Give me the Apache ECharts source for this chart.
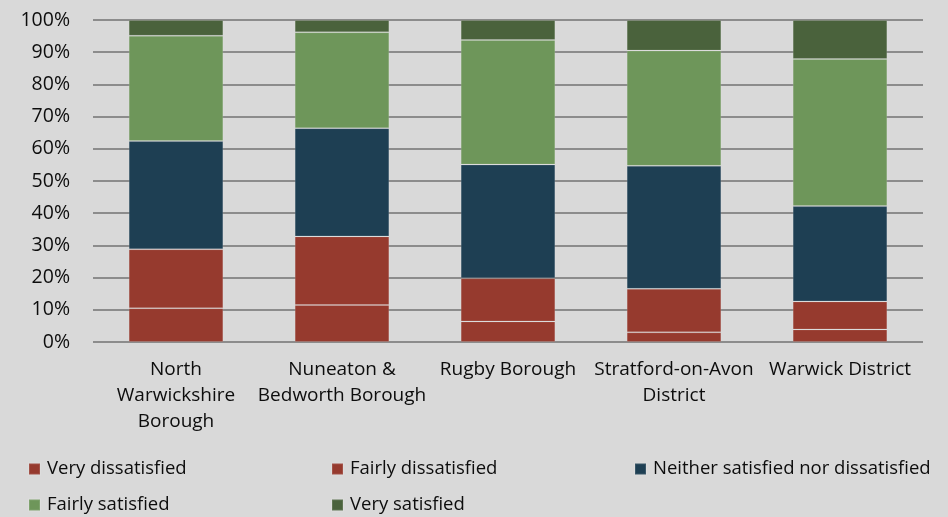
<!DOCTYPE html>
<html>
<head>
<meta charset="utf-8">
<script src="https://cdn.jsdelivr.net/npm/echarts@6/dist/echarts.min.js"></script>
<style>
html,body{margin:0;padding:0;background:#d9d9d9;}
#c{width:948px;height:517px;}
</style>
</head>
<body>
<div id="c"></div>
<script>
var categories = ['North Warwickshire Borough', 'Nuneaton & Bedworth Borough', 'Rugby Borough', 'Stratford-on-Avon District', 'Warwick District'];
var categoryLabels = ['North\nWarwickshire\nBorough', 'Nuneaton &\nBedworth Borough', 'Rugby Borough', 'Stratford-on-Avon\nDistrict', 'Warwick District'];
var seriesNames = ['Very dissatisfied', 'Fairly dissatisfied', 'Neither satisfied nor dissatisfied', 'Fairly satisfied', 'Very satisfied'];
var veryDissatisfied = [10.5, 11.5, 6.4, 3.0, 3.9];
var fairlyDissatisfied = [18.3, 21.3, 13.4, 13.5, 8.7];
var neither = [33.6, 33.6, 35.3, 38.2, 29.6];
var fairlySatisfied = [32.7, 29.8, 38.7, 35.8, 45.7];
var verySatisfied = [4.9, 3.8, 6.2, 9.5, 12.1];
var colors = ['#963a2e', '#963a2e', '#1e3f53', '#6e965a', '#4a623c'];

var values = [veryDissatisfied, fairlyDissatisfied, neither, fairlySatisfied, verySatisfied];
var chart = echarts.init(document.getElementById('c'));
var font = '"Open Sans", sans-serif';
chart.setOption({
  backgroundColor: '#d9d9d9',
  animation: false,
  grid: {left: 93, right: 25, top: 20, bottom: 175},
  legend: {
    left: 28, top: 456, width: 920, padding: 0,
    icon: 'rect', itemWidth: 11, itemHeight: 11, itemGap: 10,
    textStyle: {fontFamily: font, fontSize: 18.5, color: '#0d0d0d', width: 274, lineHeight: 26, padding: [0,0,0,2]},
    data: seriesNames
  },
  xAxis: {
    type: 'category', data: categories,
    axisLine: {show: false}, axisTick: {show: false},
    axisLabel: {
      interval: 0, margin: 15, color: '#0d0d0d', fontFamily: font, fontSize: 19, lineHeight: 26,
      formatter: function (v, i) { return categoryLabels[i]; }
    }
  },
  yAxis: {
    type: 'value', min: 0, max: 100, interval: 10,
    axisLine: {show: false}, axisTick: {show: false},
    axisLabel: {formatter: '{value}%', margin: 23, color: '#0d0d0d', fontFamily: font, fontSize: 19.5},
    splitLine: {lineStyle: {color: '#8c8c8c', width: 2}}
  },
  series: seriesNames.map(function (n, i) {
    return {
      name: n, type: 'bar', stack: 'total', barWidth: '57%',
      data: values[i],
      itemStyle: {color: colors[i], borderColor: 'rgba(255,255,255,0.12)', borderWidth: 1}
    };
  })
});
</script>
</body>
</html>
